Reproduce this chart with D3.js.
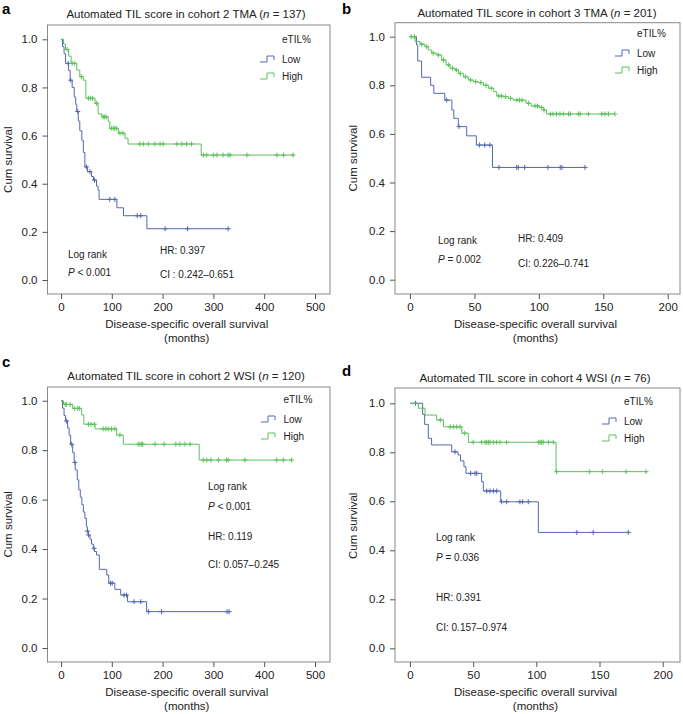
<!DOCTYPE html>
<html>
<head>
<meta charset="utf-8">
<script src="https://cdn.jsdelivr.net/npm/d3@7"></script>
<style>
  body { margin: 0; background: #fff; }
  svg { font-family: "Liberation Sans", Arial, sans-serif; }
  .tick text { font-size: 11.5px; fill: #222; }
  .tick line { stroke: #555; }
</style>
</head>
<body>
<div id="chart"></div>
<script>
var svgWidth = 683;
var svgHeight = 714;

// survival steps: [months, cumulative survival after the drop]
var aLowSteps = [[0, 1], [3, 0.97], [6, 0.94], [9, 0.90], [15, 0.87], [18, 0.83], [22, 0.80], [26, 0.76], [29, 0.73], [31, 0.70], [34, 0.66], [37, 0.62], [41, 0.58], [44, 0.53], [47, 0.47], [52, 0.45], [60, 0.43], [64, 0.415], [70, 0.39], [73, 0.374], [75, 0.335], [110, 0.30], [123, 0.267], [169, 0.213]];
var aLowEnd = 332;
var aLowCensor = [14, 19, 33, 50, 57, 66, 96, 106, 150, 157, 205, 249, 329];
var aHighSteps = [[0, 1], [5, 0.98], [9, 0.958], [15, 0.93], [20, 0.90], [31, 0.872], [37, 0.845], [44, 0.83], [49, 0.755], [67, 0.734], [73, 0.69], [80, 0.678], [93, 0.658], [96, 0.63], [113, 0.61], [126, 0.589], [132, 0.565], [276, 0.519]];
var aHighEnd = 458;
var aHighCensor = [12, 22, 27, 40, 54, 58, 62, 70, 83, 86, 89, 99, 103, 106, 109, 116, 122, 155, 162, 172, 185, 195, 201, 228, 238, 247, 257, 280, 287, 300, 307, 319, 329, 333, 366, 425, 438, 457];

var bLowSteps = [[0, 1], [5, 0.966], [6, 0.90], [9, 0.833], [16, 0.80], [18.5, 0.767], [27, 0.739], [32.5, 0.698], [34, 0.664], [37.5, 0.63], [44, 0.592], [51.5, 0.554], [64, 0.462]];
var bLowEnd = 136;
var bLowCensor = [28.5, 38, 54, 58, 62, 69, 82.8, 84, 89, 107, 116.6, 118, 135.8];
var bHighSteps = [[0, 1], [4, 0.98], [7.8, 0.969], [11.6, 0.959], [14.2, 0.945], [16.8, 0.932], [20.7, 0.925], [24.6, 0.904], [28, 0.884], [31, 0.87], [35, 0.863], [37.7, 0.849], [41.4, 0.835], [45.3, 0.822], [49, 0.815], [53, 0.811], [57, 0.80], [61, 0.788], [65, 0.774], [67.3, 0.756], [72.5, 0.753], [76.3, 0.746], [80, 0.739], [90, 0.726], [94, 0.715], [100.5, 0.709], [103.7, 0.698], [106, 0.682]];
var bHighEnd = 159;
var bHighCensor = [1, 3.5, 9, 13, 18, 22, 26, 30, 33, 36, 39, 43, 47, 51, 55, 59, 63, 69, 71, 74, 78, 83, 85, 87, 92, 97, 99, 102, 104, 109, 111, 113.7, 116.4, 119, 123, 124.4, 130.6, 132, 138.4, 148.8, 151.3, 154, 159];

var cLowSteps = [[0, 1], [3, 0.97], [6, 0.94], [9, 0.918], [13, 0.89], [16, 0.86], [19, 0.824], [23, 0.79], [26, 0.75], [28, 0.72], [32, 0.68], [35, 0.64], [38, 0.61], [41, 0.58], [44, 0.55], [47, 0.524], [50, 0.49], [52, 0.473], [54, 0.457], [57, 0.44], [60, 0.42], [63.6, 0.403], [66, 0.39], [70, 0.376], [75.4, 0.318], [90, 0.295], [94, 0.262], [106, 0.237], [117.5, 0.214], [131, 0.187], [168.6, 0.147]];
var cLowEnd = 331;
var cLowCensor = [11, 21, 27.6, 52, 54, 65, 97.5, 100.8, 124, 129, 143.7, 157, 172, 198, 327, 331];
var cHighSteps = [[0, 1], [5, 0.985], [23, 0.969], [40.7, 0.942], [45, 0.905], [67, 0.886], [109.6, 0.861], [122.7, 0.824], [272, 0.76]];
var cHighEnd = 455;
var cHighCensor = [8, 11, 18, 27, 33, 36, 54, 59, 66, 83, 88.4, 93, 99.5, 106, 116, 152, 155.5, 159, 161, 185, 203, 226, 234, 244, 254, 280, 287, 295, 310, 326, 329, 362, 424.6, 437.6, 454];

var dLowSteps = [[0, 1], [10, 0.955], [11.6, 0.914], [14.5, 0.857], [17.1, 0.83], [33, 0.802], [38, 0.789], [40, 0.765], [42.7, 0.741], [44.3, 0.714], [56.7, 0.68], [58, 0.642], [71.8, 0.598], [101.6, 0.473]];
var dLowEnd = 173;
var dLowCensor = [4.4, 35.6, 48, 51.4, 52.8, 60.7, 63.3, 66, 68.6, 72.5, 76.5, 87, 89.2, 93.6, 132, 145, 172.8];
var dHighSteps = [[0, 1], [6.6, 0.98], [11.9, 0.952], [21, 0.932], [26.5, 0.904], [41, 0.878], [46.2, 0.841], [115.6, 0.721]];
var dHighEnd = 187;
var dHighCensor = [24, 31.7, 34.3, 37, 39.6, 43.3, 50, 56.7, 59.4, 60.7, 62, 63.3, 66, 68.6, 71.2, 76.5, 101.6, 103, 104.2, 105.5, 109.5, 113.4, 116, 141.9, 152.5, 171, 186.8];

var yTicks = [0, 0.2, 0.4, 0.6, 0.8, 1.0];
var xTicksLong = [0, 100, 200, 300, 400, 500];
var xTicksShort = [0, 50, 100, 150, 200];
var groupNames = ["Low", "High"];
var colors = ["#5467b0", "#5cc25c"];

// panel layout (pixels)
var panels = [
  {
    letter: "a", lx: 2, ly: 14,
    title: ["Automated TIL score in cohort 2 TMA (", "n", " = 137)"], tx: 186, ty: 18,
    frame: [47.5, 25, 330, 294], xr: [61, 315], yr: [280, 39.3], xTicks: xTicksLong,
    low: [aLowSteps, aLowEnd, aLowCensor], high: [aHighSteps, aHighEnd, aHighCensor],
    legend: [260, 282, 39], yLabelX: 12,
    notes: [["Log rank", 68, 254], [["P", " < 0.001"], 68, 272], ["HR: 0.397", 160, 250], ["CI : 0.242\u20130.651", 160, 274]]
  },
  {
    letter: "b", lx: 342, ly: 14,
    title: ["Automated TIL score in cohort 3 TMA (", "n", " = 201)"], tx: 537, ty: 16.5,
    frame: [395, 22.7, 680, 294], xr: [410, 667.7], yr: [279.7, 36.7], xTicks: xTicksShort,
    low: [bLowSteps, bLowEnd, bLowCensor], high: [bHighSteps, bHighEnd, bHighCensor],
    legend: [615, 637, 33], yLabelX: 357,
    notes: [["Log rank", 438, 240], [["P", " = 0.002"], 438, 259], ["HR: 0.409", 518, 238], ["CI: 0.226\u20130.741", 518, 263]]
  },
  {
    letter: "c", lx: 2, ly: 367,
    title: ["Automated TIL score in cohort 2 WSI (", "n", " = 120)"], tx: 186, ty: 379.5,
    frame: [47.5, 387, 330, 662], xr: [61, 315], yr: [648, 400.7], xTicks: xTicksLong,
    low: [cLowSteps, cLowEnd, cLowCensor], high: [cHighSteps, cHighEnd, cHighCensor],
    legend: [261, 283.5, 399], yLabelX: 12,
    notes: [["Log rank", 208, 486], [["P", " < 0.001"], 208, 506], ["HR: 0.119", 208, 536], ["CI: 0.057\u20130.245", 208, 564]]
  },
  {
    letter: "d", lx: 342, ly: 376,
    title: ["Automated TIL score in cohort 4 WSI (", "n", " = 76)"], tx: 535, ty: 382,
    frame: [395, 388, 680, 662], xr: [410, 662.7], yr: [648.3, 403.3], xTicks: xTicksShort,
    low: [dLowSteps, dLowEnd, dLowCensor], high: [dHighSteps, dHighEnd, dHighCensor],
    legend: [602, 624, 401], yLabelX: 357,
    notes: [["Log rank", 436, 537], [["P", " = 0.036"], 436, 557], ["HR: 0.391", 436, 597], ["CI: 0.157\u20130.974", 436, 627]]
  }
];

var svg = d3.select("#chart")
  .append("svg")
  .attr("width", svgWidth)
  .attr("height", svgHeight);

// survival at time t from a step list
function survivalAt(steps, t) {
  var s = 1;
  steps.forEach(function(d) {
    if (d[0] <= t) s = d[1];
  });
  return s;
}

function stepPath(steps, end, x, y) {
  var p = "M" + x(steps[0][0]) + "," + y(steps[0][1]);
  for (var i = 1; i < steps.length; i++) {
    p += "H" + x(steps[i][0]) + "V" + y(steps[i][1]);
  }
  return p + "H" + x(end);
}

function drawCurve(g, series, x, y, color) {
  var steps = series[0], end = series[1], censor = series[2];
  g.append("path")
    .attr("d", stepPath(steps, end, x, y))
    .attr("fill", "none")
    .attr("stroke", color)
    .attr("stroke-width", 1);

  g.selectAll(null)
    .data(censor)
    .enter()
    .append("path")
    .attr("d", function(t) {
      var cx = x(t), cy = y(survivalAt(steps, t));
      return "M" + (cx - 2.5) + "," + cy + "H" + (cx + 2.5) + "M" + cx + "," + (cy - 2.5) + "V" + (cy + 2.5);
    })
    .attr("stroke", color)
    .attr("stroke-width", 1);
}

panels.forEach(function(p) {
  var g = svg.append("g");
  var f = p.frame;

  var x = d3.scaleLinear().domain([0, p.xTicks[p.xTicks.length - 1]]).range(p.xr);
  var y = d3.scaleLinear().domain([0, 1]).range(p.yr);

  g.append("text")
    .attr("x", p.lx)
    .attr("y", p.ly)
    .attr("font-size", 15)
    .attr("font-weight", "bold")
    .text(p.letter);

  var title = g.append("text")
    .attr("x", p.tx)
    .attr("y", p.ty)
    .attr("text-anchor", "middle")
    .attr("font-size", 11.5)
    .attr("fill", "#222");
  title.append("tspan").text(p.title[0]);
  title.append("tspan").attr("font-style", "italic").text(p.title[1]);
  title.append("tspan").text(p.title[2]);

  g.append("rect")
    .attr("x", f[0])
    .attr("y", f[1])
    .attr("width", f[2] - f[0])
    .attr("height", f[3] - f[1])
    .attr("fill", "none")
    .attr("stroke", "#888")
    .attr("stroke-width", 1);

  var leftAxis = d3.axisLeft(y)
    .tickValues(yTicks)
    .tickFormat(d3.format(".1f"))
    .tickSize(5)
    .tickPadding(5);
  g.append("g")
    .attr("transform", "translate(" + f[0] + ",0)")
    .call(leftAxis)
    .call(function(a) { a.select(".domain").remove(); });

  var bottomAxis = d3.axisBottom(x)
    .tickValues(p.xTicks)
    .tickFormat(d3.format("d"))
    .tickSize(5)
    .tickPadding(4);
  g.append("g")
    .attr("transform", "translate(0," + f[3] + ")")
    .call(bottomAxis)
    .call(function(a) { a.select(".domain").remove(); });

  var cx = (f[0] + f[2]) / 2 - 2;
  g.append("text")
    .attr("x", cx)
    .attr("y", f[3] + 34)
    .attr("text-anchor", "middle")
    .attr("font-size", 11.5)
    .attr("fill", "#222")
    .text("Disease-specific overall survival");
  g.append("text")
    .attr("x", cx)
    .attr("y", f[3] + 48)
    .attr("text-anchor", "middle")
    .attr("font-size", 11.5)
    .attr("fill", "#222")
    .text("(months)");

  g.append("text")
    .attr("transform", "translate(" + p.yLabelX + "," + ((p.yr[0] + p.yr[1]) / 2) + ") rotate(-90)")
    .attr("text-anchor", "middle")
    .attr("font-size", 11.5)
    .attr("fill", "#222")
    .text("Cum survival");

  drawCurve(g, p.low, x, y, colors[0]);
  drawCurve(g, p.high, x, y, colors[1]);

  // legend
  var lg = p.legend;
  g.append("text")
    .attr("x", lg[1])
    .attr("y", lg[2])
    .attr("dy", "0.35em")
    .attr("font-size", 10)
    .attr("fill", "#222")
    .text("eTIL%");
  groupNames.forEach(function(name, i) {
    var ly = lg[2] + 20 + i * 17;
    g.append("path")
      .attr("d", "M" + lg[0] + "," + (ly + 3) + "H" + (lg[0] + 7) + "V" + (ly - 3) + "H" + (lg[0] + 14) + "V" + (ly + 1))
      .attr("fill", "none")
      .attr("stroke", colors[i])
      .attr("stroke-width", 1);
    g.append("text")
      .attr("x", lg[1])
      .attr("y", ly)
      .attr("dy", "0.35em")
      .attr("font-size", 10)
      .attr("fill", "#222")
      .text(name);
  });

  // statistics notes
  p.notes.forEach(function(n) {
    var t = g.append("text")
      .attr("x", n[1])
      .attr("y", n[2])
      .attr("dy", "0.35em")
      .attr("font-size", 10)
      .attr("fill", "#222");
    if (Array.isArray(n[0])) {
      t.append("tspan").attr("font-style", "italic").text(n[0][0]);
      t.append("tspan").text(n[0][1]);
    } else {
      t.text(n[0]);
    }
  });
});
</script>
</body>
</html>
